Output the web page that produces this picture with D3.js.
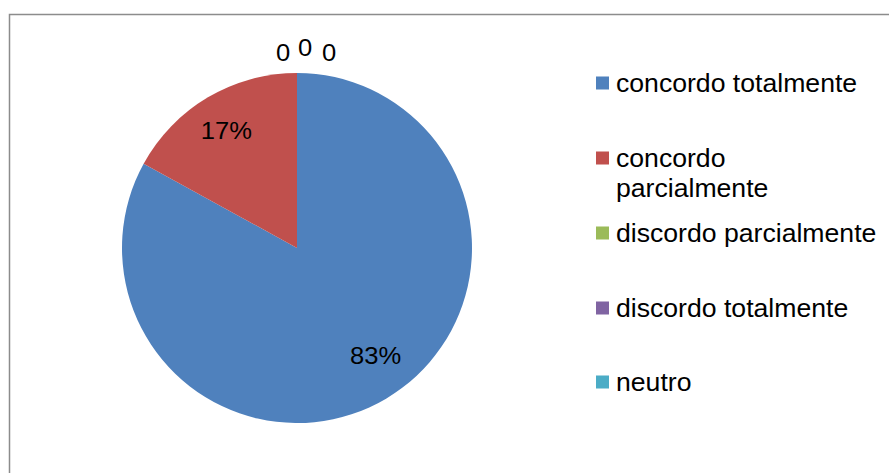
<!DOCTYPE html>
<html>
<head>
<meta charset="utf-8">
<script src="https://cdn.jsdelivr.net/npm/d3@7"></script>
<style>
  html, body { margin: 0; padding: 0; background: #fff; }
  svg { display: block; }
  text { font-family: "Liberation Sans", Arial, Helvetica, sans-serif; fill: #000; }
</style>
</head>
<body>
<script>
const categories = ["concordo totalmente", "concordo parcialmente", "discordo parcialmente", "discordo totalmente", "neutro"];
const values = [83, 17, 0, 0, 0];
const labels = ["83%", "17%", "0", "0", "0"];
const colors = ["#4F81BD", "#C0504D", "#9BBB59", "#8064A2", "#4BACC6"];

const W = 889, H = 473;
const svg = d3.select("body").append("svg").attr("width", W).attr("height", H);

// chart frame
svg.append("rect")
  .attr("x", 9.5).attr("y", 14.5)
  .attr("width", 900).attr("height", 500)
  .attr("fill", "#fff").attr("stroke", "#8c8c8c").attr("stroke-width", 1.5);

const cx = 297, cy = 248, R = 175;
const g = svg.append("g").attr("transform", `translate(${cx},${cy})`);

const data = categories.map((c, i) => ({ cat: c, value: values[i], label: labels[i], color: colors[i] }));
const pie = d3.pie().value(d => d.value).sort(null);
const arcs = pie(data);
const arc = d3.arc().innerRadius(0).outerRadius(R);
const labelArc = d3.arc().innerRadius(R * 0.77).outerRadius(R * 0.77);
const outerArc = d3.arc().innerRadius(R + 20).outerRadius(R + 20);

g.selectAll("path.slice").data(arcs).enter().append("path")
  .attr("class", "slice")
  .attr("d", arc)
  .attr("fill", d => d.data.color);

// percentage labels inside (small nudges mimic the original placement)
const fs = 24;
const inNudges = { "83%": [10, -8], "17%": [-2, -1] };
g.selectAll("text.in").data(arcs.filter(d => d.data.value > 0)).enter().append("text")
  .attr("class", "in")
  .attr("transform", d => {
    const [x, y] = labelArc.centroid(d);
    const n = inNudges[d.data.label] || [0, 0];
    return `translate(${x + n[0]},${y + n[1]}) scale(1.065,1)`;
  })
  .attr("text-anchor", "middle")
  .attr("dominant-baseline", "central")
  .attr("font-size", fs)
  .text(d => d.data.label);

// zero labels outside at top, nudged apart to avoid overlap
const zeroArcs = arcs.filter(d => d.data.value === 0);
const nudges = [[-14, 0], [8, -5], [32, 0]];
g.selectAll("text.zero").data(zeroArcs).enter().append("text")
  .attr("class", "zero")
  .attr("transform", (d, i) => {
    const [x, y] = outerArc.centroid(d);
    return `translate(${x + nudges[i][0]},${y + nudges[i][1]}) scale(1.065,1)`;
  })
  .attr("text-anchor", "middle")
  .attr("dominant-baseline", "central")
  .attr("font-size", fs)
  .text(d => d.data.label);

// legend
const legendYs = [83, 158, 233, 308, 382];
const lg = svg.append("g");
const items = lg.selectAll("g.item").data(data).enter().append("g")
  .attr("class", "item")
  .attr("transform", (d, i) => `translate(596,${legendYs[i]})`);
items.append("rect")
  .attr("x", 0).attr("y", -6.5).attr("width", 13).attr("height", 13)
  .attr("fill", d => d.color);
items.each(function(d) {
  const t = d3.select(this).append("text")
    .attr("transform", "translate(20,0) scale(1.065,1)")
    .attr("font-size", 25)
    .attr("dominant-baseline", "central");
  const lines = d.cat === "concordo parcialmente" ? ["concordo", "parcialmente"] : [d.cat];
  lines.forEach((ln, k) => {
    t.append("tspan").attr("x", 0).attr("dy", k === 0 ? 0 : 30).text(ln);
  });
});
</script>
</body>
</html>
